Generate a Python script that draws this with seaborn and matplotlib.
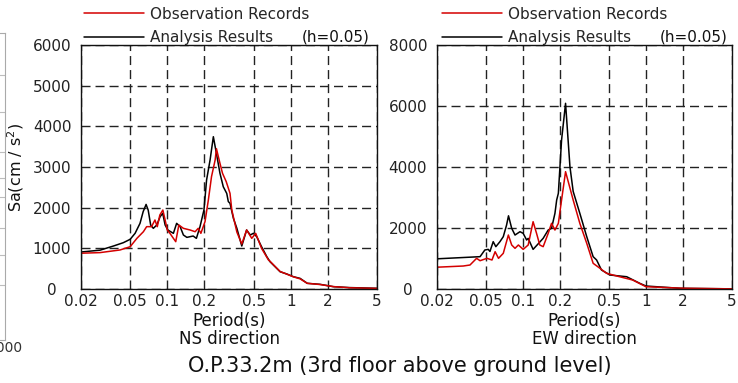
import numpy as np
import pandas as pd
import seaborn as sns
import matplotlib.pyplot as plt
from matplotlib.transforms import ScaledTranslation

# Response spectra (period in s, Sa in cm/s^2)
ns_ana_T = [0.02, 0.0285, 0.0366, 0.044, 0.05, 0.0548, 0.0601, 0.0637, 0.0673, 0.070,
            0.0733, 0.077, 0.0822, 0.0874, 0.0918, 0.096, 0.101, 0.112, 0.119, 0.127,
            0.135, 0.144, 0.162, 0.172, 0.184, 0.198, 0.208, 0.222, 0.236, 0.251,
            0.267, 0.284, 0.303, 0.312, 0.322, 0.343, 0.366, 0.401, 0.439, 0.470,
            0.498, 0.53, 0.58, 0.64, 0.68, 0.82, 0.93, 1.05, 1.19, 1.36,
            1.73, 2.22, 3.0, 5.0]
ns_ana_Sa = [910, 955, 1057, 1139, 1222, 1369, 1615, 1900, 2080, 1940,
             1574, 1492, 1574, 1778, 1860, 1574, 1451, 1369, 1615, 1533,
             1328, 1270, 1303, 1246, 1533, 1942, 2680, 3172, 3745, 3300,
             2845, 2515, 2350, 2150, 2107, 1738, 1492, 1057, 1451, 1328,
             1370, 1286, 1040, 794, 670, 425, 369, 303, 262, 140,
             115, 57, 35, 17]

ns_obs_T = [0.02, 0.0285, 0.0414, 0.05, 0.0567, 0.064, 0.068, 0.0745, 0.0794, 0.0829,
            0.087, 0.092, 0.096, 0.100, 0.105, 0.112, 0.117, 0.124, 0.135, 0.153,
            0.168, 0.178, 0.187, 0.202, 0.215, 0.228, 0.244, 0.250, 0.267, 0.280,
            0.300, 0.322, 0.333, 0.366, 0.401, 0.439, 0.483, 0.520, 0.58, 0.66,
            0.68, 0.82, 0.93, 1.05, 1.19, 1.36, 1.73, 2.2, 3.0, 5.0]
ns_obs_Sa = [880, 895, 960, 1040, 1246, 1409, 1533, 1533, 1697, 1533,
             1820, 1942, 1697, 1451, 1369, 1246, 1164, 1574, 1492, 1451,
             1409, 1492, 1369, 1656, 2188, 2762, 3172, 3450, 3090, 2845,
             2640, 2353, 1942, 1400, 1106, 1451, 1246, 1369, 1000, 713,
             680, 430, 365, 300, 250, 140, 110, 60, 30, 15]

ew_ana_T = [0.02, 0.0448, 0.049, 0.0522, 0.0539, 0.0573, 0.0602, 0.065, 0.0692, 0.0736,
            0.0763, 0.081, 0.0862, 0.0946, 0.1004, 0.1071, 0.1103, 0.1209, 0.1329, 0.146,
            0.1604, 0.1708, 0.182, 0.188, 0.194, 0.206, 0.222, 0.241, 0.256, 0.290,
            0.330, 0.372, 0.397, 0.435, 0.51, 0.697, 0.89, 1.0, 1.9, 5.0]
ew_ana_Sa = [990, 1060, 1279, 1300, 1230, 1552, 1388, 1552, 1716, 2098,
             2400, 1990, 1770, 1879, 1825, 1607, 1660, 1300, 1480, 1662,
             1934, 1990, 2481, 2918, 3138, 4885, 6088, 4010, 3200, 2481,
             1716, 1060, 951, 623, 459, 403, 187, 98, 23, 5]

ew_obs_T = [0.02, 0.0327, 0.0371, 0.042, 0.0448, 0.051, 0.056, 0.0594, 0.0633, 0.0692,
            0.0761, 0.081, 0.0862, 0.0918, 0.1004, 0.1103, 0.1209, 0.129, 0.137, 0.146,
            0.1604, 0.1708, 0.182, 0.194, 0.206, 0.222, 0.256, 0.290, 0.330, 0.372,
            0.423, 0.479, 0.61, 0.78, 1.0, 2.0, 5.0]
ew_obs_Sa = [715, 754, 787, 1006, 928, 1006, 951, 1223, 1006, 1170,
             1770, 1443, 1334, 1443, 1300, 1443, 2207, 1825, 1443, 1388,
             1825, 2153, 1934, 2153, 2918, 3847, 2918, 2153, 1498, 843,
             678, 514, 403, 295, 75, 25, 5]

period_ticks = [0.02, 0.05, 0.1, 0.2, 0.5, 1, 2, 5]
period_labels = ['0.02', '0.05', '0.1', '0.2', '0.5', '1', '2', '5']

RED = '#d40000'
BLACK = '#000000'

sns.set_theme(style='white')
plt.rcParams['font.family'] = ['DejaVu Sans']
plt.rcParams['mathtext.fontset'] = 'dejavusans'

fig = plt.figure(figsize=(7.38, 3.83), dpi=100)

# cropped neighbour chart at the very left edge
frag = fig.add_axes([-0.3, 0.112, 0.3068, 0.802])
frag.set_xlim(0, 1000)
frag.set_ylim(0, 307)
frag.set_yticks([55, 85, 112, 143, 162, 188, 228, 265])
frag.set_xticks([1000])
frag.set_xticklabels(['1000'])
frag.grid(True, axis='y', color='#bdbdbd', linewidth=0.8)
frag.tick_params(length=0, labelsize=10, colors='#333333', pad=1)
frag.set_yticklabels([])
for s in frag.spines.values():
    s.set_color('#aaaaaa')
    s.set_linewidth(0.8)

ax1 = fig.add_axes([0.1098, 0.2454, 0.4011, 0.6371])
ax2 = fig.add_axes([0.5921, 0.2454, 0.3997, 0.6371])

panels = [
    (ax1, ns_ana_T, ns_ana_Sa, ns_obs_T, ns_obs_Sa, 6000, 1000, 'NS direction', 0.01, 0.976),
    (ax2, ew_ana_T, ew_ana_Sa, ew_obs_T, ew_obs_Sa, 8000, 2000, 'EW direction', 0.017, 0.986),
]

for ax, aT, aS, oT, oS, ymax, ystep, name, lx, hx in panels:
    sns.lineplot(x=aT, y=aS, ax=ax, color=BLACK, linewidth=1.1,
                 estimator=None, label='Analysis Results')
    sns.lineplot(x=oT, y=oS, ax=ax, color=RED, linewidth=1.1,
                 estimator=None, label='Observation Records')
    ax.set_xscale('log')
    ax.set_xlim(0.02, 5)
    ax.set_ylim(0, ymax)
    ax.set_xticks(period_ticks)
    ax.set_xticklabels(period_labels)
    ax.minorticks_off()
    ax.set_yticks(np.arange(0, ymax + 1, ystep))
    ax.grid(True, color='#222222', linestyle=(0, (6.5, 3.6)), linewidth=1.0)
    ax.tick_params(axis='both', length=0, labelsize=11, colors='#222222')
    ax.tick_params(axis='y', pad=7)
    ax.tick_params(axis='x', pad=3.5)
    # the zero label sits further left in the original
    zero = ax.yaxis.get_major_ticks()[0].label1
    zero.set_transform(zero.get_transform()
                       + ScaledTranslation(-0.15, 0, fig.dpi_scale_trans))
    for s in ax.spines.values():
        s.set_color('#111111')
        s.set_linewidth(1.0)
    ax.set_xlabel('Period(s)\n' + name, fontsize=12, linespacing=1.0,
                  labelpad=2, color='#111111')
    ax.set_ylabel('')
    h, l = ax.get_legend_handles_labels()
    ax.legend(h[::-1], l[::-1], loc='lower left', bbox_to_anchor=(lx, 1.0),
              frameon=False, fontsize=11, handlelength=3.9, handletextpad=0.45,
              labelspacing=0.55, borderpad=0, borderaxespad=0)
    ax.text(hx, 1.004, '(h=0.05)', transform=ax.transAxes, ha='right',
            va='bottom', fontsize=11, color='#111111')

ax1.set_ylabel('Sa(cm / s$^2$)', fontsize=11.5, color='#111111')
ax1.yaxis.set_label_coords(-0.186, 0.5)

fig.text(0.542, 0.044, 'O.P.33.2m (3rd floor above ground level)',
         ha='center', va='center', fontsize=15, color='#111111')

fig.savefig('out.png', dpi=100)
